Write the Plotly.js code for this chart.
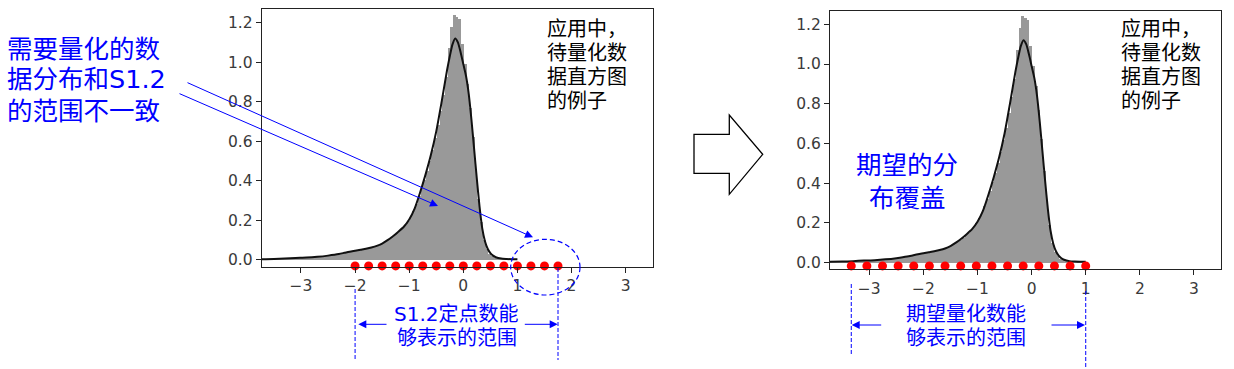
<!DOCTYPE html>
<html>
<head>
<meta charset="utf-8">
<script src="https://cdn.plot.ly/plotly-3.0.1.min.js"></script>
<style>html,body{margin:0;padding:0;background:#fff;}#chart{width:1234px;height:369px;}</style>
</head>
<body>
<div id="chart"></div>
<script>
// ---------- data ----------
const histStart = -3.715;   // centre of first bin
const histWidth = 0.05;     // bin width
const histValues = [
 0.003,0.004,0.004,0.005,0.004,0.006,0.005,0.007,0.006,0.008,
 0.009,0.008,0.010,0.009,0.011,0.012,0.011,0.013,0.014,0.015,
 0.016,0.018,0.017,0.020,0.021,0.024,0.025,0.028,0.030,0.031,
 0.035,0.038,0.040,0.044,0.046,0.048,0.050,0.053,0.055,0.058,
 0.060,0.064,0.069,0.073,0.080,0.088,0.096,0.105,0.115,0.126,
 0.137,0.150,0.162,0.178,0.198,0.222,0.250,0.285,0.322,0.362,
 0.405,0.450,0.500,0.555,0.615,0.680,0.755,0.835,0.925,1.070,
 1.180,1.240,1.230,1.220,1.090,0.990,0.890,0.770,0.620,0.460,
 0.310,0.190,0.100,0.055,0.032,0.020,0.012,0.008,0.005,0.004,
 0.003,0.003,0.002,0.002,0.001
];
const kdeX = [-3.76,-3.5,-3.3,-3.1,-2.9,-2.7,-2.5,-2.3,-2.2,-2.1,-2.0,-1.9,-1.8,-1.7,-1.6,-1.5,-1.4,-1.3,-1.2,-1.1,-1.0,-0.9,-0.8,-0.7,-0.6,-0.5,-0.4,-0.3,-0.25,-0.2,-0.15,-0.1,-0.05,0.0,0.05,0.1,0.15,0.2,0.25,0.3,0.35,0.4,0.45,0.5,0.55,0.6,0.7,0.8,0.9,1.0];
const kdeY = [0.004,0.005,0.007,0.010,0.012,0.016,0.022,0.030,0.036,0.042,0.047,0.052,0.057,0.063,0.071,0.083,0.100,0.120,0.143,0.168,0.205,0.260,0.340,0.430,0.530,0.650,0.800,0.960,1.030,1.090,1.120,1.100,1.050,0.990,0.930,0.840,0.710,0.560,0.410,0.270,0.160,0.095,0.057,0.035,0.022,0.014,0.007,0.005,0.004,0.004];
// S1.2 fixed-point representable values (left) and desired levels (right)
const levelsS12 = [-2,-1.75,-1.5,-1.25,-1,-0.75,-0.5,-0.25,0,0.25,0.5,0.75,1,1.25,1.5,1.75];
const levelsWanted = [-3.333,-3.044,-2.756,-2.467,-2.178,-1.889,-1.600,-1.311,-1.022,-0.733,-0.444,-0.156,0.133,0.422,0.711,1.000];
const levelY1 = -0.030, levelY2 = -0.017;
const xTicks = [-3,-2,-1,0,1,2,3];
const yTicks = [0,0.2,0.4,0.6,0.8,1.0,1.2];
const txtLeft = ['需要量化的数','据分布和S1.2','的范围不一致'];
const txtExample = ['应用中，','待量化数','据直方图','的例子'];
const txtRange1 = ['S1.2定点数能','够表示的范围'];
const txtRange2 = ['期望量化数能','够表示的范围'];
const txtWanted = ['期望的分','布覆盖'];

// ---------- helpers ----------
const W = 1234, H = 369;
const px = x => x / W;
const py = y => 1 - y / H;
const CJK = 'DejaVu Sans, Noto Sans CJK SC, sans-serif';
const BLUE = '#0000ff';

function panel(xa, ya, levels, ly) {
  return [
    {type:'bar', x0:histStart, dx:histWidth, y:histValues, xaxis:xa, yaxis:ya,
     marker:{color:'#999999', line:{width:0}}, hoverinfo:'skip'},
    {type:'scatter', mode:'lines', x:kdeX, y:kdeY, xaxis:xa, yaxis:ya,
     line:{color:'#111111', width:2, shape:'spline', smoothing:0.6}},
    {type:'scatter', mode:'markers', x:levels, y:levels.map(()=>ly), xaxis:xa, yaxis:ya,
     cliponaxis:false, marker:{color:'#ff0000', size:9}}
  ];
}
const data = [...panel('x','y',levelsS12,levelY1), ...panel('x2','y2',levelsWanted,levelY2)];

const axBase = {showline:true, mirror:true, linecolor:'#222', linewidth:1, ticks:'outside',
  ticklen:5, tickwidth:1, tickcolor:'#222', showgrid:false, zeroline:false,
  tickfont:{family:'DejaVu Sans', size:15.5, color:'#3a3a3a'}};
const xr = [-3.726, 3.5], yr = [-0.034, 1.267];

const annotations = [];
function textLine(t, x, y, size, color, anchor) {
  annotations.push({xref:'paper', yref:'paper', x:px(x), y:py(y), text:t, showarrow:false,
    xanchor:anchor, yanchor:'middle', font:{family:CJK, size:size, color:color}});
}
const leftY = [49.2, 79.2, 110.8];
txtLeft.forEach((t,i)=>textLine(t, 5, leftY[i], 25.5, BLUE, 'left'));
const exY = [28.7, 52.6, 76.6, 100.5];
txtExample.forEach((t,i)=>textLine(t, 545, exY[i], 20, '#000', 'left'));
txtExample.forEach((t,i)=>textLine(t, 1119, exY[i], 20, '#000', 'left'));
const rY = [313.5, 337.7];
txtRange1.forEach((t,i)=>textLine(t, 456.7, rY[i], 20, BLUE, 'center'));
txtRange2.forEach((t,i)=>textLine(t, 966, rY[i], 20, BLUE, 'center'));
const wY = [165, 198.3];
txtWanted.forEach((t,i)=>textLine(t, 907.5, wY[i], 25.5, BLUE, 'center'));

function arrow(tx, ty, fx, fy, size) {
  annotations.push({xref:'paper', yref:'paper', x:px(tx), y:py(ty), ax:fx-tx, ay:fy-ty,
    axref:'pixel', ayref:'pixel', text:'', showarrow:true, arrowhead:2, arrowsize:size,
    arrowwidth:1, arrowcolor:BLUE, standoff:0, startstandoff:0});
}
arrow(533, 237.3, 186, 82, 1.6);
arrow(438, 206, 178, 93, 1.6);
arrow(358.3, 324.3, 388, 324.3, 1.6);
arrow(557.7, 324.3, 523.3, 324.3, 1.6);
arrow(851.7, 325, 882.7, 325, 1.6);
arrow(1085, 325, 1050, 325, 1.6);

const dashLine = {color:BLUE, width:1, dash:'4px,2px'};
const shapes = [
  {type:'circle', xref:'paper', yref:'paper', x0:px(510.7), x1:px(580), y0:py(295), y1:py(239.3),
   line:{color:BLUE, width:1.2, dash:'5px,3px'}},
  {type:'line', xref:'x', yref:'paper', x0:levelsS12[0], x1:levelsS12[0], y0:py(289), y1:py(360), line:dashLine},
  {type:'line', xref:'x', yref:'paper', x0:levelsS12[15], x1:levelsS12[15], y0:py(268), y1:py(360), line:dashLine},
  {type:'line', xref:'x2', yref:'paper', x0:levelsWanted[0], x1:levelsWanted[0], y0:py(284), y1:py(356), line:dashLine},
  {type:'line', xref:'x2', yref:'paper', x0:levelsWanted[15], x1:levelsWanted[15], y0:py(291), y1:py(369), line:dashLine}
];
// big hollow arrow between panels
const bigArrow = [[694,134.3],[729.3,134.3],[729.3,115],[762.7,154.3],[729.3,194.3],[729.3,173.3],[694,173.3]];
shapes.push({type:'path', xref:'paper', yref:'paper',
  path:'M' + bigArrow.map(p=>px(p[0])+','+py(p[1])).join('L') + 'Z',
  fillcolor:'#ffffff', line:{color:'#000', width:1.3}});

const layout = {
  width:W, height:H, margin:{l:0,r:0,t:0,b:0}, showlegend:false,
  paper_bgcolor:'#fff', plot_bgcolor:'#fff', bargap:0,
  xaxis: {...axBase, domain:[px(261.7), px(652.7)], range:xr, tickvals:xTicks, anchor:'y'},
  yaxis: {...axBase, domain:[py(266.7), py(9.3)], range:yr, tickvals:yTicks, tickformat:'.1f', anchor:'x'},
  xaxis2:{...axBase, domain:[px(830), px(1221)], range:xr, tickvals:xTicks, anchor:'y2'},
  yaxis2:{...axBase, domain:[py(269.3), py(11)], range:yr, tickvals:yTicks, tickformat:'.1f', anchor:'x2'},
  annotations, shapes
};
Plotly.newPlot('chart', data, layout, {staticPlot:true, displayModeBar:false});
</script>
</body>
</html>
